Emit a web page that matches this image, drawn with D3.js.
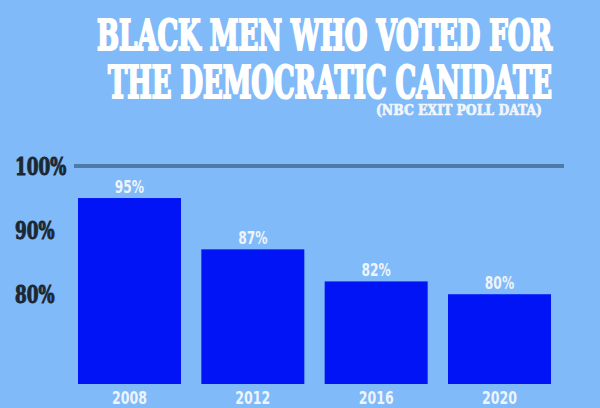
<!DOCTYPE html>
<html>
<head>
<meta charset="utf-8">
<script src="https://cdn.jsdelivr.net/npm/d3@7"></script>
<style>
  html, body { margin: 0; padding: 0; background: #80baf9; }
  svg { display: block; }
</style>
</head>
<body>
<svg id="chart"></svg>
<script>
var width = 600,
    height = 408;

var years = ["2008", "2012", "2016", "2020"];
var shares = [95, 87, 82, 80];
var tickValues = [80, 90, 100];
var tickLabels = ["80%", "90%", "100%"];
var titleLines = ["BLACK MEN WHO VOTED FOR", "THE DEMOCRATIC CANIDATE"];
var subtitle = "(NBC EXIT POLL DATA)";

var svg = d3.select("#chart").attr("width", width).attr("height", height);

svg.append("rect")
  .attr("width", width)
  .attr("height", height)
  .attr("fill", "#80baf9");

var x = d3.scaleBand()
  .domain(years)
  .range([78, 551])
  .paddingInner(0.165)
  .paddingOuter(0);

var y = d3.scaleLinear()
  .domain([66, 100])
  .range([384, 166]);

// squeeze text sideways, the poster uses condensed faces
function squeeze(sel, f) {
  sel.each(function() {
    var w = this.getComputedTextLength();
    d3.select(this).attr("textLength", w * f).attr("lengthAdjust", "spacingAndGlyphs");
  });
}

var serif = "DejaVu Serif Condensed, DejaVu Serif, serif";
var sans = "DejaVu Sans Condensed, DejaVu Sans, sans-serif";

// title
var title = svg.append("g")
  .attr("font-family", serif)
  .attr("font-weight", "bold")
  .attr("fill", "#ffffff")
  .attr("stroke", "#ffffff")
  .attr("lengthAdjust", "spacingAndGlyphs");
title.append("text")
  .attr("x", 97).attr("y", 50)
  .attr("font-size", 42)
  .attr("stroke-width", 2.2)
  .attr("textLength", 455)
  .attr("lengthAdjust", "spacingAndGlyphs")
  .text(titleLines[0]);
title.append("text")
  .attr("x", 108).attr("y", 98)
  .attr("font-size", 44)
  .attr("stroke-width", 2.2)
  .attr("textLength", 444)
  .attr("lengthAdjust", "spacingAndGlyphs")
  .text(titleLines[1]);
title.append("text")
  .attr("x", 376).attr("y", 115)
  .attr("font-size", 14)
  .attr("stroke-width", 0.6)
  .attr("fill", "#f2f6fb")
  .attr("stroke", "#f2f6fb")
  .attr("textLength", 166)
  .attr("lengthAdjust", "spacingAndGlyphs")
  .text(subtitle);

// 100% rule
svg.append("line")
  .attr("x1", 74).attr("x2", 564)
  .attr("y1", y(100)).attr("y2", y(100))
  .attr("stroke", "#4f7aa6")
  .attr("stroke-width", 4);

// y labels
svg.append("g").selectAll("text")
  .data(tickValues)
  .enter()
  .append("text")
  .attr("x", 15)
  .attr("y", function(d) { return y(d); })
  .attr("dy", "0.36em")
  .attr("font-family", serif)
  .attr("font-weight", "bold")
  .attr("font-size", 24)
  .attr("fill", "#1c2733")
  .attr("stroke", "#1c2733")
  .attr("stroke-width", 1)
  .text(function(d, i) { return tickLabels[i]; })
  .call(squeeze, 0.78);

// bars
svg.append("g").selectAll("rect")
  .data(shares)
  .enter()
  .append("rect")
  .attr("x", function(d, i) { return x(years[i]); })
  .attr("y", function(d) { return y(d); })
  .attr("width", x.bandwidth())
  .attr("height", function(d) { return y(66) - y(d); })
  .attr("fill", "#0014f5");

// value labels
svg.append("g").selectAll("text")
  .data(shares)
  .enter()
  .append("text")
  .attr("x", function(d, i) { return x(years[i]) + x.bandwidth() / 2; })
  .attr("y", function(d) { return y(d) - 5; })
  .attr("text-anchor", "middle")
  .attr("font-family", sans)
  .attr("font-weight", "bold")
  .attr("font-size", 17)
  .attr("fill", "#eef4fb")
  .text(function(d) { return d + "%"; })
  .call(squeeze, 0.8);

// year labels
svg.append("g").selectAll("text")
  .data(years)
  .enter()
  .append("text")
  .attr("x", function(d) { return x(d) + x.bandwidth() / 2; })
  .attr("y", 404)
  .attr("text-anchor", "middle")
  .attr("font-family", sans)
  .attr("font-weight", "bold")
  .attr("font-size", 17)
  .attr("fill", "#eef4fb")
  .text(function(d) { return d; })
  .call(squeeze, 0.82);
</script>
</body>
</html>
